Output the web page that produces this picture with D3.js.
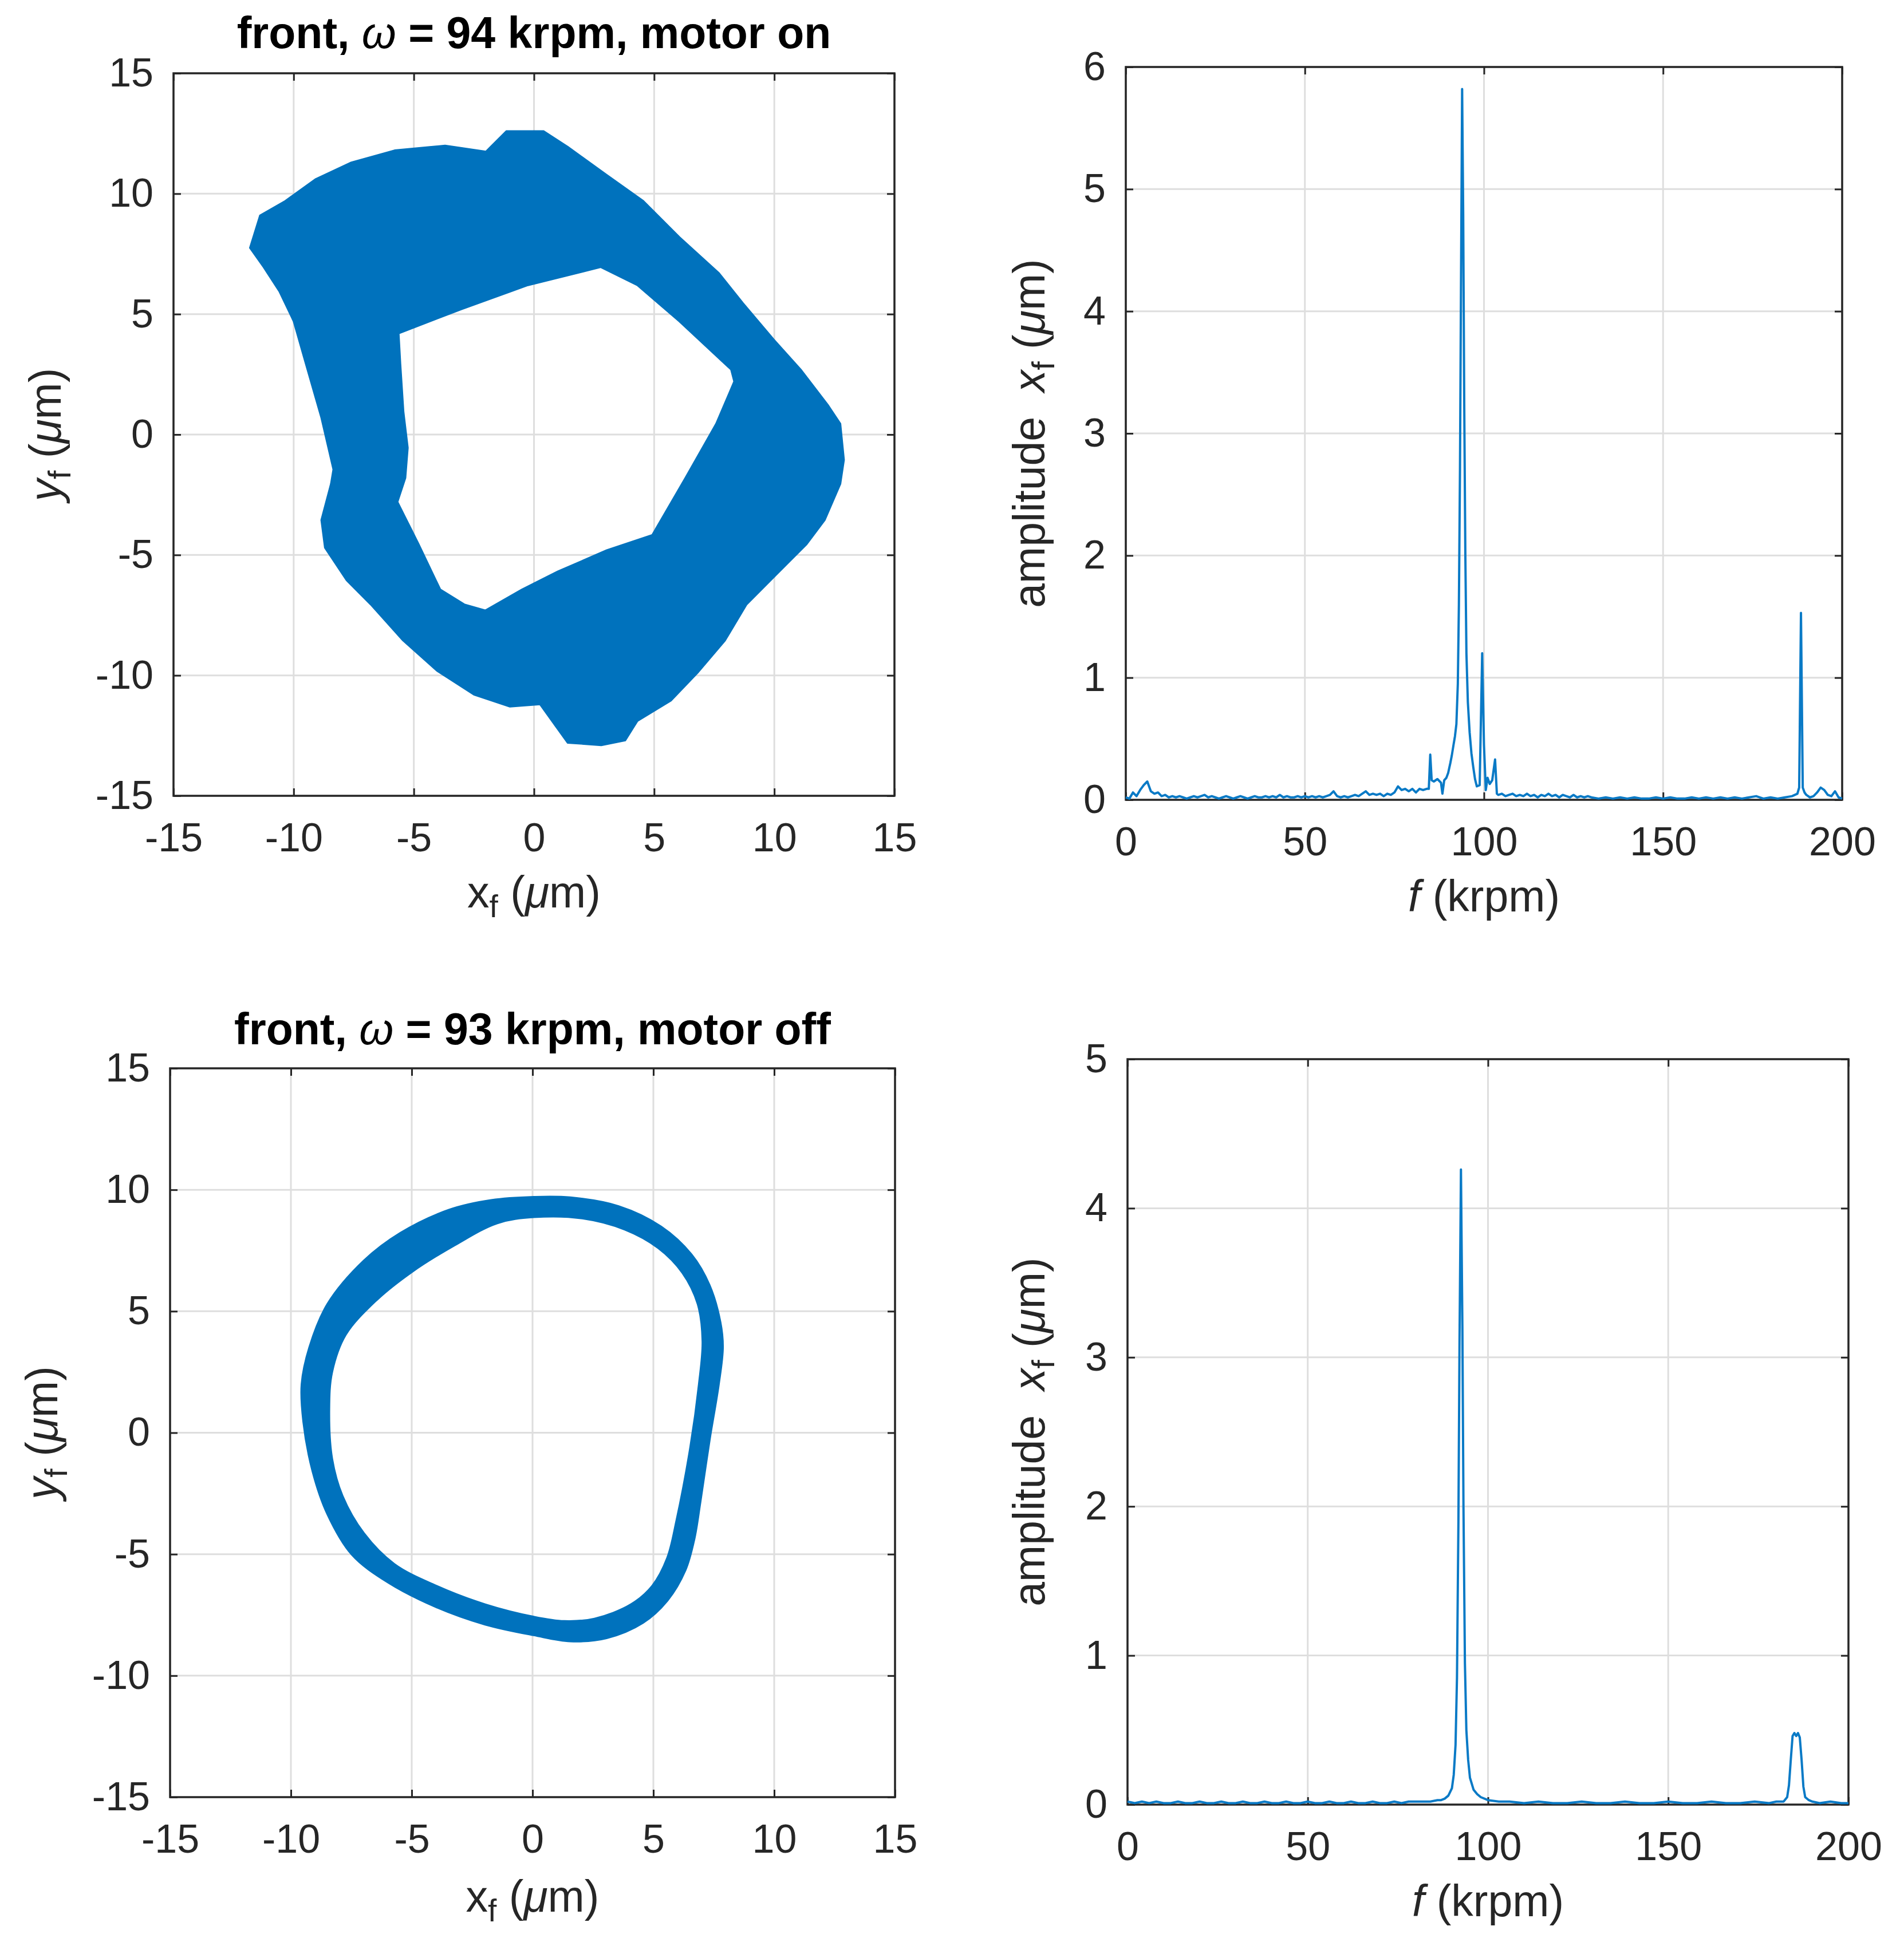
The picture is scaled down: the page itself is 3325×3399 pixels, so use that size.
<!DOCTYPE html>
<html><head><meta charset="utf-8">
<script src="https://cdn.jsdelivr.net/npm/d3@7"></script>
<style>
html,body{margin:0;padding:0;background:#fff;}
svg{display:block;}
</style></head><body>
<svg id="chart" width="3325" height="3399"></svg>
<script>
// ---------------- data ----------------
const orbitTicks = [-15, -10, -5, 0, 5, 10, 15];
const freqTicks = [0, 50, 100, 150, 200];
const ampTicksOn = [0, 1, 2, 3, 4, 5, 6];
const ampTicksOff = [0, 1, 2, 3, 4, 5];

const titleOn = ["front, ", "ω", " = 94 krpm, motor on"];
const titleOff = ["front, ", "ω", " = 93 krpm, motor off"];

// motor on orbit band (x_f, y_f in µm): outer and inner boundary
const orbitOnOuter = [
  [-11.82, 7.75], [-11.4, 9.1], [-10.35, 9.7], [-9.1, 10.6], [-7.6, 11.3], [-5.8, 11.8],
  [-3.7, 12.0], [-2.0, 11.75], [-1.15, 12.6], [0.4, 12.6], [1.4, 11.95], [3.0, 10.8],
  [4.55, 9.7], [6.05, 8.2], [7.7, 6.7], [8.7, 5.45], [9.97, 3.95], [11.1, 2.7],
  [12.25, 1.2], [12.75, 0.45], [12.9, -1.05], [12.75, -2.05], [12.1, -3.55], [11.35, -4.55],
  [10.1, -5.8], [8.85, -7.05], [7.95, -8.55], [6.8, -9.9], [5.7, -11.05], [4.3, -11.9],
  [3.8, -12.7], [2.8, -12.9], [1.4, -12.8], [0.25, -11.2], [-1.0, -11.3], [-2.5, -10.8],
  [-4.05, -9.8], [-5.45, -8.55], [-6.8, -7.05], [-7.8, -6.05], [-8.7, -4.7], [-8.85, -3.55],
  [-8.45, -2.05], [-8.35, -1.45], [-8.85, 0.7], [-9.5, 2.95], [-10.0, 4.7], [-10.6, 5.95],
  [-11.25, 6.95]
];
const orbitOnInner = [
  [-5.63, 4.2], [-3.03, 5.2], [-0.25, 6.2], [2.78, 6.95], [4.3, 6.2], [6.05, 4.7],
  [8.2, 2.7], [8.33, 2.2], [7.58, 0.45], [6.3, -1.8], [4.92, -4.17], [3.03, -4.8],
  [1.0, -5.68], [-0.5, -6.43], [-2.02, -7.3], [-2.9, -7.05], [-3.9, -6.43], [-4.8, -4.55],
  [-5.68, -2.8], [-5.35, -1.8], [-5.25, -0.55], [-5.43, 0.95], [-5.56, 2.95]
];

// motor off orbit band
const orbitOffOuter = [
  [0.05, 9.71], [1.56, 9.69], [3.56, 9.33], [5.32, 8.49], [6.58, 7.34], [7.33, 6.07],
  [7.78, 4.54], [7.88, 3.52], [7.71, 1.99], [7.33, -0.31], [6.95, -2.85], [6.70, -4.38],
  [6.33, -5.66], [5.57, -6.93], [4.57, -7.83], [3.06, -8.46], [1.56, -8.59], [0.05, -8.34],
  [-1.96, -7.90], [-3.97, -7.19], [-5.98, -6.17], [-7.48, -5.02], [-8.49, -3.36], [-9.11, -1.58],
  [-9.49, 0.46], [-9.56, 1.99], [-9.24, 3.52], [-8.49, 5.30], [-6.98, 7.09], [-5.47, 8.23],
  [-3.46, 9.18], [-1.71, 9.58]
];
const orbitOffInner = [
  [0.05, 8.87], [2.06, 8.82], [3.82, 8.36], [5.20, 7.60], [6.20, 6.58], [6.83, 5.30],
  [7.03, 3.77], [6.88, 1.99], [6.53, -0.56], [5.95, -3.62], [5.57, -5.15], [4.95, -6.30],
  [4.07, -7.06], [2.56, -7.65], [1.31, -7.75], [0.05, -7.57], [-1.96, -7.06], [-3.97, -6.30],
  [-5.72, -5.40], [-6.98, -4.13], [-7.86, -2.60], [-8.29, -1.07], [-8.41, 0.97], [-8.29, 2.50],
  [-7.73, 4.03], [-6.48, 5.43], [-4.97, 6.63], [-3.21, 7.72], [-1.46, 8.62]
];

// amplitude spectra [f (krpm), amplitude (µm)]
const spectrumOn = [
  [0,0.02],[1,0.01],[2,0.06],[3,0.03],[4,0.08],[5,0.12],[6,0.15],[7,0.07],[8,0.05],[9,0.06],
  [10,0.03],[11,0.04],[12,0.02],[13,0.03],[14,0.02],[15,0.03],[16,0.02],[17,0.01],[18,0.02],[19,0.03],
  [20,0.02],[21,0.03],[22,0.04],[23,0.02],[24,0.03],[25,0.02],[26,0.01],[27,0.02],[28,0.03],[29,0.02],
  [30,0.01],[31,0.02],[32,0.03],[33,0.02],[34,0.01],[35,0.02],[36,0.03],[37,0.02],[38,0.02],[39,0.03],
  [40,0.02],[41,0.03],[42,0.02],[43,0.04],[44,0.02],[45,0.03],[46,0.02],[47,0.02],[48,0.03],[49,0.02],
  [50,0.03],[51,0.02],[52,0.03],[53,0.02],[54,0.03],[55,0.02],[56,0.03],[57,0.04],[58,0.07],[59,0.03],
  [60,0.02],[61,0.03],[62,0.02],[63,0.03],[64,0.04],[65,0.03],[66,0.05],[67,0.07],[68,0.04],[69,0.05],
  [70,0.04],[71,0.05],[72,0.03],[73,0.05],[74,0.04],[75,0.06],[76,0.11],[77,0.08],[78,0.09],[79,0.07],
  [80,0.09],[81,0.06],[82,0.09],[83,0.08],[84,0.09],[84.6,0.09],[85,0.37],[85.4,0.16],[86,0.15],[87,0.17],
  [88,0.14],[88.4,0.05],[88.9,0.16],[89.5,0.18],[90,0.22],[90.6,0.3],[91,0.36],[91.5,0.45],[91.9,0.52],
  [92.3,0.62],[92.7,0.95],[93.0,1.6],[93.3,2.7],[93.6,4.3],[93.9,5.82],[94.2,4.8],[94.5,3.2],[94.8,2.0],
  [95.1,1.2],[95.5,0.8],[96,0.55],[96.5,0.38],[97,0.27],[97.5,0.17],[98,0.11],[98.8,0.12],[99.5,1.2],
  [100,0.45],[100.5,0.08],[101,0.18],[101.6,0.13],[102.3,0.16],[103.1,0.33],[103.6,0.05],[104,0.04],
  [105,0.05],[106,0.03],[107,0.04],[108,0.05],[109,0.03],[110,0.04],[111,0.03],[112,0.05],[113,0.03],
  [114,0.04],[115,0.02],[116,0.04],[117,0.03],[118,0.05],[119,0.03],[120,0.04],[121,0.02],[122,0.04],
  [123,0.03],[124,0.02],[125,0.04],[126,0.02],[127,0.03],[128,0.02],[129,0.03],[130,0.02],[132,0.01],
  [134,0.02],[136,0.01],[138,0.02],[140,0.01],[142,0.02],[144,0.01],[146,0.01],[148,0.02],[150,0.01],
  [152,0.02],[154,0.01],[156,0.01],[158,0.02],[160,0.01],[162,0.02],[164,0.01],[166,0.02],[168,0.01],
  [170,0.02],[172,0.01],[174,0.02],[176,0.03],[178,0.01],[180,0.02],[182,0.01],[184,0.02],[186,0.03],
  [187.5,0.05],[188,0.1],[188.5,1.53],[189,0.1],[189.5,0.06],[190,0.04],[191,0.02],[192,0.03],[193,0.06],
  [194,0.1],[195,0.08],[196,0.04],[197,0.03],[198,0.07],[199,0.02],[200,0.01]
];
const spectrumOff = [
  [0,0.02],[2,0.01],[4,0.02],[6,0.01],[8,0.02],[10,0.01],[12,0.01],[14,0.02],[16,0.01],[18,0.01],
  [20,0.02],[22,0.01],[24,0.01],[26,0.02],[28,0.01],[30,0.01],[32,0.02],[34,0.01],[36,0.01],[38,0.02],
  [40,0.01],[42,0.01],[44,0.02],[46,0.01],[48,0.01],[50,0.02],[52,0.01],[54,0.01],[56,0.02],[58,0.01],
  [60,0.01],[62,0.02],[64,0.01],[66,0.01],[68,0.02],[70,0.01],[72,0.01],[74,0.02],[76,0.01],[78,0.02],
  [80,0.02],[82,0.02],[84,0.02],[86,0.03],[87,0.03],[88,0.04],[89,0.06],[90,0.11],[90.5,0.2],[91,0.4],
  [91.4,0.85],[91.8,1.9],[92.1,3.1],[92.5,4.26],[92.9,3.2],[93.2,2.0],[93.6,0.95],[94,0.5],[94.5,0.3],
  [95,0.18],[96,0.1],[97,0.07],[98,0.05],[100,0.03],[103,0.02],[106,0.02],[110,0.01],[114,0.02],[118,0.01],
  [122,0.01],[126,0.02],[130,0.01],[134,0.01],[138,0.02],[142,0.01],[146,0.01],[150,0.02],[154,0.01],
  [158,0.01],[162,0.02],[166,0.01],[170,0.01],[174,0.02],[178,0.01],[180,0.02],[182,0.02],[183,0.05],
  [183.5,0.13],[184,0.3],[184.5,0.46],[185,0.48],[185.5,0.46],[186,0.48],[186.5,0.45],[187,0.3],
  [187.5,0.12],[188,0.05],[189,0.03],[190,0.02],[192,0.01],[195,0.02],[198,0.01],[200,0.01]
];

// ---------------- drawing ----------------
const FONT = '"Liberation Sans", Arial, Helvetica, sans-serif';
const BLUE = "#0072BD";
const LINEBLUE = "#0a7ac6";
const AXC = "#262626";
const TICK_FS = 70, LABEL_FS = 77;
const svg = d3.select("#chart");

const xLabelOrbit = [{t:"x"},{t:"f",sub:true},{t:" ("},{t:"μ",it:true},{t:"m)"}];
const yLabelOrbit = [{t:"y",it:true},{t:"f",sub:true},{t:" ("},{t:"μ",it:true},{t:"m)"}];
const xLabelSpec = [{t:"f",it:true},{t:" (krpm)"}];
const yLabelSpec = [{t:"amplitude  "},{t:"x",it:true},{t:"f",sub:true},{t:" ("},{t:"μ",it:true},{t:"m)"}];

function richText(sel, parts, fs) {
  let shift = 0;
  parts.forEach(p => {
    const ts = sel.append("tspan").text(p.t);
    const target = p.sub ? Math.round(fs * 0.22) : 0;
    if (target !== shift) { ts.attr("dy", target - shift); shift = target; }
    if (p.sub) ts.attr("font-size", Math.round(fs * 0.72));
    if (p.it) ts.attr("font-style", "italic");
  });
}

function frame(p) {
  const w = p.right - p.left, h = p.bottom - p.top;
  const x = d3.scaleLinear().domain(p.xDomain).range([0, w]);
  const y = d3.scaleLinear().domain(p.yDomain).range([h, 0]);
  const g = svg.append("g").attr("transform", `translate(${p.left},${p.top})`);

  // grid
  g.append("g").selectAll("line").data(p.xTicks).join("line")
    .attr("x1", d => x(d)).attr("x2", d => x(d)).attr("y1", 0).attr("y2", h)
    .attr("stroke", "#dedede").attr("stroke-width", 3);
  g.append("g").selectAll("line").data(p.yTicks).join("line")
    .attr("y1", d => y(d)).attr("y2", d => y(d)).attr("x1", 0).attr("x2", w)
    .attr("stroke", "#dedede").attr("stroke-width", 3);

  const fmt = d => String(d);
  const style = a => {
    a.select(".domain").remove();
    a.selectAll(".tick line").attr("stroke", AXC).attr("stroke-width", 3);
    a.selectAll(".tick text").attr("fill", AXC).attr("font-size", TICK_FS).attr("font-family", FONT);
    a.attr("font-size", TICK_FS).attr("font-family", FONT);
  };
  g.append("g").attr("transform", `translate(0,${h})`)
    .call(d3.axisBottom(x).tickValues(p.xTicks).tickFormat(fmt).tickSize(-13).tickPadding(47)).call(style);
  g.append("g")
    .call(d3.axisLeft(y).tickValues(p.yTicks).tickFormat(fmt).tickSize(-13).tickPadding(35)).call(style);
  g.append("g")
    .call(d3.axisTop(x).tickValues(p.xTicks).tickFormat("").tickSize(-13)).call(style);
  g.append("g").attr("transform", `translate(${w},0)`)
    .call(d3.axisRight(y).tickValues(p.yTicks).tickFormat("").tickSize(-13)).call(style);

  // box
  g.append("rect").attr("x", 0).attr("y", 0).attr("width", w).attr("height", h)
    .attr("fill", "none").attr("stroke", AXC).attr("stroke-width", 3.5);

  // clip
  const cid = "clip-" + p.key;
  g.append("clipPath").attr("id", cid).append("rect")
    .attr("x", -2).attr("y", -2).attr("width", w + 4).attr("height", h + 4);
  const data = g.append("g").attr("clip-path", `url(#${cid})`);

  // x label
  const xl = g.append("text").attr("x", w / 2).attr("y", h + p.xLabelOff)
    .attr("text-anchor", "middle").attr("font-family", FONT).attr("font-size", LABEL_FS)
    .attr("fill", AXC).style("white-space", "pre");
  richText(xl, p.xLabel, LABEL_FS);
  // y label
  const yl = g.append("text").attr("transform", `translate(${-p.yLabelOff},${h / 2}) rotate(-90)`)
    .attr("text-anchor", "middle").attr("font-family", FONT).attr("font-size", LABEL_FS)
    .attr("fill", AXC).style("white-space", "pre");
  richText(yl, p.yLabel, LABEL_FS);
  // title
  if (p.title) {
    const t = g.append("text").attr("x", w / 2).attr("y", -p.titleOff)
      .attr("text-anchor", "middle").attr("font-family", FONT).attr("font-size", LABEL_FS)
      .attr("font-weight", "bold").attr("fill", "#000").style("white-space", "pre");
    t.append("tspan").text(p.title[0]);
    t.append("tspan").text(p.title[1]).attr("font-style", "italic").attr("font-weight", "normal");
    t.append("tspan").text(p.title[2]);
  }
  return {g: data, x, y};
}

function drawOrbit(p, outer, inner, curve) {
  const f = frame(p);
  const line = d3.line().x(d => f.x(d[0])).y(d => f.y(d[1])).curve(curve);
  f.g.append("path").attr("d", line(outer) + line(inner))
    .attr("fill", BLUE).attr("fill-rule", "evenodd")
    .attr("stroke", BLUE).attr("stroke-width", 3).attr("stroke-linejoin", "round");
}

function drawSpectrum(p, spec) {
  const f = frame(p);
  const line = d3.line().x(d => f.x(d[0])).y(d => f.y(d[1]));
  f.g.append("path").attr("d", line(spec))
    .attr("fill", "none").attr("stroke", LINEBLUE).attr("stroke-width", 4)
    .attr("stroke-linejoin", "round");
}

drawOrbit({key:"p1", left:303, right:1562, top:128, bottom:1390,
  xDomain:[-15,15], yDomain:[-15,15], xTicks:orbitTicks, yTicks:orbitTicks,
  xLabel:xLabelOrbit, yLabel:yLabelOrbit, xLabelOff:195, yLabelOff:197, title:titleOn, titleOff:44},
  orbitOnOuter, orbitOnInner, d3.curveLinearClosed);

drawSpectrum({key:"p2", left:1966, right:3217, top:117, bottom:1397,
  xDomain:[0,200], yDomain:[0,6], xTicks:freqTicks, yTicks:ampTicksOn,
  xLabel:xLabelSpec, yLabel:yLabelSpec, xLabelOff:195, yLabelOff:142}, spectrumOn);

drawOrbit({key:"p3", left:297, right:1563, top:1866, bottom:3139,
  xDomain:[-15,15], yDomain:[-15,15], xTicks:orbitTicks, yTicks:orbitTicks,
  xLabel:xLabelOrbit, yLabel:yLabelOrbit, xLabelOff:200, yLabelOff:197, title:titleOff, titleOff:42},
  orbitOffOuter, orbitOffInner, d3.curveCatmullRomClosed);

drawSpectrum({key:"p4", left:1969, right:3228, top:1850, bottom:3152,
  xDomain:[0,200], yDomain:[0,5], xTicks:freqTicks, yTicks:ampTicksOff,
  xLabel:xLabelSpec, yLabel:yLabelSpec, xLabelOff:195, yLabelOff:145}, spectrumOff);
</script>
</body></html>
